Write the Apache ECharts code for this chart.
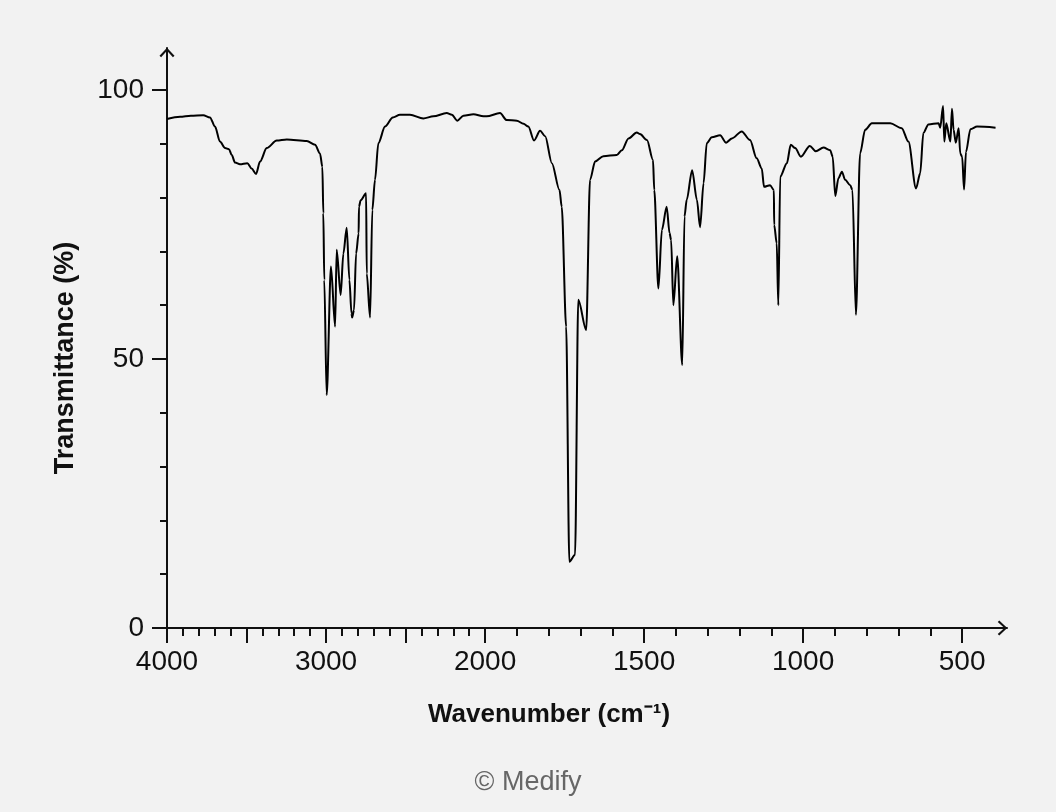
<!DOCTYPE html>
<html>
<head>
<meta charset="utf-8">
<title>IR spectrum</title>
<script src="https://cdn.jsdelivr.net/npm/echarts@6/dist/echarts.min.js"></script>
<style>
  html, body { margin: 0; padding: 0; background: #f2f2f2; }
  #chart { width: 1056px; height: 812px; }
</style>
</head>
<body>
<div id="chart"></div>
<script>
// spectrum: wavenumber (cm-1) and transmittance (%)
var wavenumber = [
  4000, 3918, 3850, 3772, 3730, 3698, 3667, 3635, 3610, 3593, 3572, 3541, 3495, 3468, 3440, 3415,
  3373, 3310, 3247, 3121, 3069, 3038, 3023, 3017, 3011, 2996, 2969, 2943, 2933, 2908, 2891, 2870,
  2853, 2840, 2836, 2824, 2811, 2795, 2793, 2782, 2748, 2744, 2723, 2709, 2692, 2671, 2629, 2580,
  2535, 2472, 2388, 2325, 2241, 2209, 2174, 2136, 2073, 2010, 1995, 1953, 1932, 1900, 1879, 1864,
  1846, 1827, 1811, 1790, 1766, 1759, 1745, 1735, 1717, 1707, 1682, 1670, 1654, 1628, 1586, 1570,
  1549, 1523, 1513, 1491, 1472, 1468, 1455, 1444, 1429, 1420, 1415, 1408, 1396, 1380, 1373, 1366,
  1349, 1334, 1324, 1313, 1303, 1287, 1261, 1242, 1224, 1193, 1167, 1146, 1130, 1123, 1104, 1092,
  1091, 1083, 1078, 1072, 1051, 1039, 1025, 1007, 979, 960, 936, 915, 907, 899, 889, 878,
  868, 852, 845, 834, 821, 805, 784, 726, 690, 669, 645, 632, 622, 606, 574, 569,
  560, 556, 550, 537, 532, 527, 520, 511, 506, 500, 494, 488, 474, 453, 395
];
var transmittance = [
  94.6, 95.0, 95.2, 95.3, 94.9, 93.2, 90.4, 89.2, 89.0, 87.9, 86.5, 86.2, 86.4, 85.4, 84.4, 86.7,
  89.2, 90.6, 90.8, 90.5, 89.8, 88.2, 85.7, 77.1, 64.7, 43.3, 67.2, 56.0, 70.3, 61.9, 69.6, 74.4,
  64.7, 58.5, 57.7, 59.1, 69.6, 73.3, 78.3, 79.5, 80.8, 65.9, 57.7, 77.7, 83.3, 90.1, 93.2, 94.9,
  95.4, 95.4, 94.7, 95.1, 95.7, 95.4, 94.3, 95.2, 95.5, 95.1, 95.1, 95.7, 94.4, 94.3, 93.7, 93.2,
  90.6, 92.4, 91.4, 86.4, 81.4, 78.3, 56.0, 12.3, 13.6, 61.0, 55.4, 83.3, 86.7, 87.7, 87.9, 88.8,
  91.0, 92.1, 91.8, 90.7, 87.0, 81.4, 63.1, 74.0, 78.3, 73.4, 72.1, 60.0, 69.1, 48.9, 76.5, 79.6,
  85.1, 79.6, 74.5, 82.7, 90.1, 91.2, 91.6, 90.2, 91.0, 92.3, 90.7, 87.3, 85.4, 82.0, 82.3, 81.4,
  74.9, 71.5, 60.0, 83.9, 86.4, 89.8, 89.2, 87.6, 89.6, 88.6, 89.3, 88.8, 87.6, 80.3, 83.6, 84.8,
  83.3, 82.3, 81.4, 58.2, 88.2, 92.6, 93.8, 93.8, 92.9, 90.4, 81.7, 84.5, 92.0, 93.6, 93.8, 93.0,
  97.0, 90.4, 93.8, 90.4, 96.5, 92.6, 90.2, 92.9, 88.2, 87.6, 81.5, 88.5, 92.7, 93.2, 93.0
];

// axis marks (wavenumber / percent)
var xLabelTicks = [4000, 3000, 2000, 1500, 1000, 500];
var xMajorTicks = [4000, 3500, 3000, 2500, 2000, 1500, 1000, 500];
var xMinorTicks = [3900, 3800, 3700, 3600, 3400, 3300, 3200, 3100, 2900, 2800, 2700, 2600,
                   2400, 2300, 2200, 2100, 1900, 1800, 1700, 1600, 1400, 1300, 1200, 1100,
                   900, 800, 700, 600];
var yLabelTicks = [0, 50, 100];
var yMinorTicks = [10, 20, 30, 40, 60, 70, 80, 90];

// the x axis is compressed 2:1 above 2000 cm-1, like on the instrument chart
function toAxis(w) { return w >= 2000 ? (4000 - w) / 2 : 1000 + (2000 - w); }
function fromAxis(u) { return u <= 1000 ? 4000 - 2 * u : 2000 - (u - 1000); }

var FONT = '"Liberation Sans", Arial, Helvetica, sans-serif';
var INK = '#111111';
// open chevron for the axis ends
var ARROW = 'path://M7.5 0 L15 8 L13.4 9.5 L7.5 2.9 L1.6 9.5 L0 8 Z';
var X_MAX = 2641, Y_MAX = 107.8;

var points = [];
for (var i = 0; i < wavenumber.length; i++) {
  points.push([toAxis(wavenumber[i]), transmittance[i]]);
}

var myChart = echarts.init(document.getElementById('chart'));
var option = {
  backgroundColor: '#f2f2f2',
  animation: false,
  title: {
    text: '© Medify',
    left: 'center',
    top: 764,
    textStyle: { fontFamily: FONT, fontSize: 27, fontWeight: 'normal', color: '#666666' }
  },
  grid: { left: 167, right: 49, top: 48, bottom: 184, containLabel: false, outerBoundsMode: 'none' },
  xAxis: [
    {
      type: 'value', min: 0, max: X_MAX, position: 'bottom',
      axisLine: {
        show: true, onZero: false,
        lineStyle: { color: INK, width: 2 },
        symbol: ['none', ARROW], symbolSize: [15, 9.5], symbolOffset: [0, -4.5]
      },
      axisTick: { show: true, length: 15, lineStyle: { color: INK, width: 2 },
                  customValues: xMajorTicks.map(toAxis) },
      axisLabel: {
        customValues: xLabelTicks.map(toAxis),
        formatter: function (v) { return String(Math.round(fromAxis(v))); },
        fontFamily: FONT, fontSize: 28, color: INK, margin: 20
      },
      splitLine: { show: false },
      name: 'Wavenumber (cm⁻¹)',
      nameLocation: 'middle', nameGap: 74,
      nameTextStyle: { fontFamily: FONT, fontSize: 26, fontWeight: 'bold', color: INK,
                       padding: [0, 76, 0, 0] }
    },
    {
      // short ticks every 100 cm-1
      type: 'value', min: 0, max: X_MAX, position: 'bottom',
      axisLine: { show: false, onZero: false },
      axisTick: { show: true, length: 8, lineStyle: { color: INK, width: 2 },
                  customValues: xMinorTicks.map(toAxis) },
      axisLabel: { show: false },
      splitLine: { show: false }
    }
  ],
  yAxis: [
    {
      type: 'value', min: 0, max: Y_MAX, position: 'left',
      axisLine: {
        show: true, onZero: false,
        lineStyle: { color: INK, width: 2 },
        symbol: ['none', ARROW], symbolSize: [15, 9.5], symbolOffset: [0, -4.5]
      },
      axisTick: { show: true, length: 15, lineStyle: { color: INK, width: 2 },
                  customValues: yLabelTicks },
      axisLabel: { customValues: yLabelTicks, fontFamily: FONT, fontSize: 28, color: INK, margin: 23 },
      splitLine: { show: false },
      name: 'Transmittance (%)',
      nameLocation: 'middle', nameGap: 88,
      nameTextStyle: { fontFamily: FONT, fontSize: 27, fontWeight: 'bold', color: INK,
                       padding: [0, 40, 0, 0] }
    },
    {
      type: 'value', min: 0, max: Y_MAX, position: 'left',
      axisLine: { show: false, onZero: false },
      axisTick: { show: true, length: 7, lineStyle: { color: INK, width: 2 },
                  customValues: yMinorTicks },
      axisLabel: { show: false },
      splitLine: { show: false }
    }
  ],
  series: [
    {
      type: 'line',
      xAxisIndex: 0,
      yAxisIndex: 0,
      data: points,
      showSymbol: false,
      smooth: 0.3,
      smoothMonotone: 'x',
      lineStyle: { color: '#000000', width: 2 },
      silent: true
    }
  ]
};
myChart.setOption(option);
</script>
</body>
</html>
